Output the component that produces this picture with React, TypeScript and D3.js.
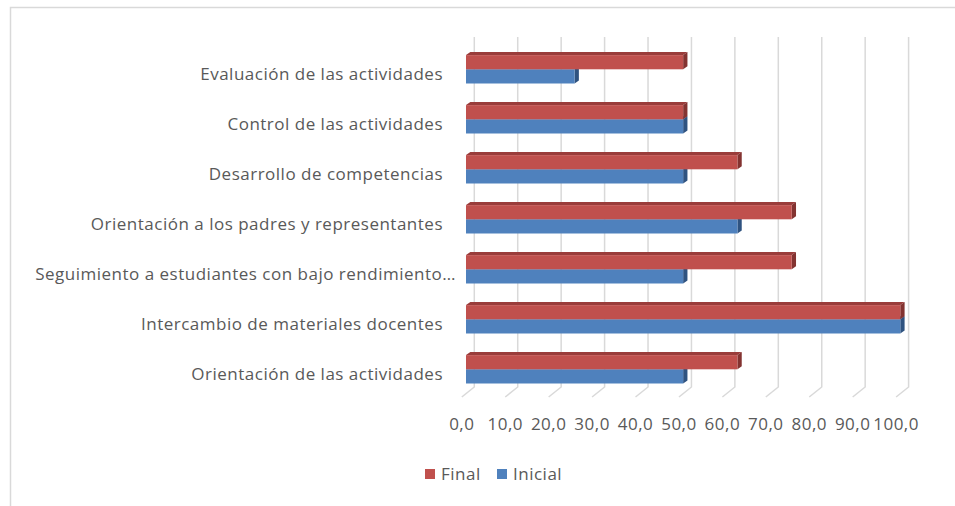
import React from "react";
import * as d3 from "d3";

// Categories listed bottom-to-top (as in the source chart)
const categories = [
  "Orientación de las actividades",
  "Intercambio de materiales docentes",
  "Seguimiento a estudiantes con bajo rendimiento…",
  "Orientación a los padres y representantes",
  "Desarrollo de competencias",
  "Control de las actividades",
  "Evaluación de las actividades",
];
const finalValues = [62.5, 100, 75, 75, 62.5, 50, 50];
const inicialValues = [50, 100, 50, 62.5, 50, 50, 25];
const seriesNames = ["Final", "Inicial"];
const ticks = [0, 10, 20, 30, 40, 50, 60, 70, 80, 90, 100];
const tickLabels = ["0,0", "10,0", "20,0", "30,0", "40,0", "50,0", "60,0", "70,0", "80,0", "90,0", "100,0"];

const COLORS: Record<string, { front: string; top: string; side: string }> = {
  Final: { front: "#C0504D", top: "#9A3C3A", side: "#833331" },
  Inicial: { front: "#4F81BD", top: "#3D6699", side: "#2F5380" },
};

const FONT = "'Open Sans', sans-serif";
const FS = 17;
const LS = 0.5;

export default function App() {
  const W = 955, H = 506;
  const plotTop = 37, plotBottom = 387;
  const backX0 = 474.3;
  const span = 434.3;
  const x = d3.scaleLinear().domain([0, 100]).range([0, span]);
  const y = d3.scaleBand<string>().domain([...categories].reverse()).range([plotTop, plotBottom]);
  const barShift = { dx: -8.3, dy: 7.3 };
  const floorShift = { dx: -12.5, dy: 10 };
  const depth = { dx: 4.3, dy: 3 };
  const barH = 14.2;
  const sub = d3.scaleBand<string>().domain(seriesNames).range([-barH, barH]);

  const bar = (name: string, v: number, cat: string, key: string) => {
    const c = COLORS[name];
    const x0 = backX0 + barShift.dx;
    const x1 = x0 + x(v);
    const y0 = (y(cat) as number) + y.bandwidth() / 2 + barShift.dy + (sub(name) as number);
    const y1 = y0 + barH;
    const { dx, dy } = depth;
    return (
      <g key={key}>
        <polygon points={`${x0},${y0} ${x0 + dx},${y0 - dy} ${x1 + dx},${y0 - dy} ${x1},${y0}`} fill={c.top} />
        <polygon points={`${x1},${y0} ${x1 + dx},${y0 - dy} ${x1 + dx},${y1 - dy} ${x1},${y1}`} fill={c.side} />
        <rect x={x0} y={y0} width={x1 - x0} height={y1 - y0} fill={c.front} />
      </g>
    );
  };

  return (
    <svg width={W} height={H} style={{ position: "absolute", left: 0, top: 0, background: "#fff" }}>
      <path d={`M10.5,${H + 2} V7.5 H${W + 2}`} fill="none" stroke="#D9D9D9" strokeWidth={1.5} />
      {ticks.map((t) => (
        <path
          key={"g" + t}
          d={`M${backX0 + x(t)},${plotTop} V${plotBottom} l${floorShift.dx},${floorShift.dy}`}
          fill="none"
          stroke="#D9D9D9"
          strokeWidth={1.5}
        />
      ))}
      {categories.map((cat, i) => bar("Inicial", inicialValues[i], cat, "i" + i))}
      {categories.map((cat, i) => bar("Final", finalValues[i], cat, "f" + i))}
      <g fontFamily={FONT} fontSize={FS} fill="#595959" letterSpacing={LS}>
        {categories.map((cat) => (
          <text
            key={"l" + cat}
            x={cat.endsWith("…") ? 456 : 443}
            y={(y(cat) as number) + y.bandwidth() / 2 + 18}
            textAnchor="end"
          >
            {cat}
          </text>
        ))}
        {ticks.map((t, i) => (
          <text key={"t" + t} x={backX0 + floorShift.dx + x(t)} y={430} textAnchor="middle">
            {tickLabels[i]}
          </text>
        ))}
        <rect x={425} y={469} width={10} height={10} fill={COLORS.Final.front} />
        <text x={441} y={479.5}>{seriesNames[0]}</text>
        <rect x={497} y={469} width={10} height={10} fill={COLORS.Inicial.front} />
        <text x={513} y={479.5}>{seriesNames[1]}</text>
      </g>
    </svg>
  );
}
